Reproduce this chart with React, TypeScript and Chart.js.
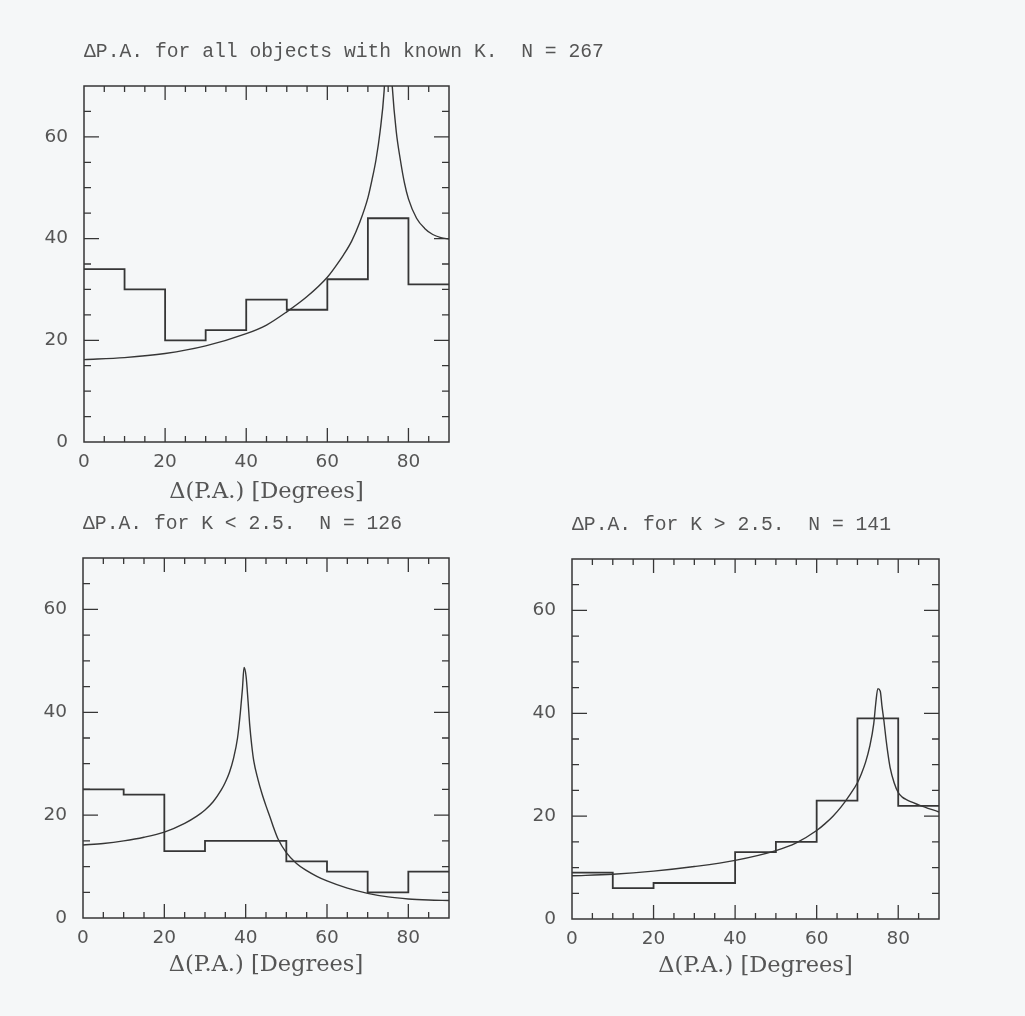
import React, { useEffect, useRef } from "react";
import { Chart, registerables } from "chart.js";

Chart.register(...registerables);

// ---------- data ----------
const binEdges = [0, 10, 20, 30, 40, 50, 60, 70, 80, 90];

const allCounts = [34, 30, 20, 22, 28, 26, 32, 44, 31];
const lowKCounts = [25, 24, 13, 15, 15, 11, 9, 5, 9];
const highKCounts = [9, 6, 7, 7, 13, 15, 23, 39, 22];

const allCurveX = [0, 10, 20, 30, 40, 45, 50, 55, 60, 62, 64, 66, 68, 70, 71, 72, 73, 74, 75, 76, 77, 78, 79, 80, 82, 84, 86, 88, 90];
const allCurveY = [16.2, 16.6, 17.4, 18.9, 21.3, 23, 25.6, 28.6, 32.4, 34.5, 36.8, 39.5, 43.2, 48, 51.5, 55.5, 61, 69, 85, 70, 61, 55.5, 51, 47.8, 44, 42, 40.8, 40.2, 39.9];

const lowKCurveX = [0, 5, 10, 15, 20, 25, 28, 30, 32, 34, 35, 36, 37, 38, 38.7, 39.2, 39.6, 40.1, 40.6, 41, 41.5, 42, 43, 44, 45, 46, 47, 48, 50, 52.5, 55, 57.5, 60, 65, 70, 75, 80, 85, 90];
const lowKCurveY = [14.2, 14.5, 15.0, 15.7, 16.7, 18.4, 19.8, 21, 22.6, 24.9, 26.4, 28.3, 31, 35, 40, 44.5, 48.7, 47, 42, 37.5, 33.5, 30.5, 27, 24.2, 21.8, 19.6, 17.3, 15.3, 12.7, 10.6, 9.2, 8.1, 7.2, 5.8, 4.8, 4.1, 3.7, 3.5, 3.4];

const highKCurveX = [0, 10, 20, 30, 40, 50, 55, 60, 62, 64, 66, 68, 70, 71, 72, 73, 74, 74.5, 75, 75.6, 76, 76.5, 77, 77.5, 78, 79, 80, 81, 82, 85, 90];
const highKCurveY = [8.4, 8.7, 9.3, 10.2, 11.4, 13.3, 14.8, 17.2, 18.5, 20, 21.8, 24, 26.5, 28.3, 30.5, 33.5, 38, 42, 44.8, 44.3, 41.5, 38.5, 35, 32, 29.5, 26.5, 24.6, 23.7, 23.2, 22.2, 20.8];

const xTickLabels = [0, 20, 40, 60, 80];
const yTickLabels = [0, 20, 40, 60];

const titleAll = "\u0394P.A. for all objects with known K.  N = 267";
const titleLow = "\u0394P.A. for K < 2.5.  N = 126";
const titleHigh = "\u0394P.A. for K > 2.5.  N = 141";
const xAxisTitle = "\u0394(P.A.) [Degrees]";

// ---------- styles ----------
const INK = "#363636";
const TEXT = "#555555";
const BG = "#f5f7f8";

type PanelProps = {
  title: string;
  counts: number[];
  curveX: number[];
  curveY: number[];
  left: number;
  top: number;
  width: number;
  height: number;
  pad: { left: number; top: number; right: number; bottom: number };
  xTitlePadBottom: number;
};

const frameTicksPlugin = {
  id: "frameTicks",
  afterDatasetsDraw(chart: any) {
    const { ctx, chartArea } = chart;
    const xs = chart.scales.x;
    const ys = chart.scales.y;
    ctx.save();
    ctx.strokeStyle = INK;
    ctx.lineWidth = 1.5;
    ctx.strokeRect(chartArea.left, chartArea.top, chartArea.right - chartArea.left, chartArea.bottom - chartArea.top);
    ctx.lineWidth = 1.3;
    ctx.beginPath();
    for (let v = 5; v < 90; v += 5) {
      const px = xs.getPixelForValue(v);
      const len = v % 20 === 0 ? 14 : 6;
      ctx.moveTo(px, chartArea.bottom);
      ctx.lineTo(px, chartArea.bottom - len);
      ctx.moveTo(px, chartArea.top);
      ctx.lineTo(px, chartArea.top + len);
    }
    for (let v = 5; v < 70; v += 5) {
      const py = ys.getPixelForValue(v);
      const len = v % 20 === 0 ? 15 : 7;
      ctx.moveTo(chartArea.left, py);
      ctx.lineTo(chartArea.left + len, py);
      ctx.moveTo(chartArea.right, py);
      ctx.lineTo(chartArea.right - len, py);
    }
    ctx.stroke();
    // panel title
    const t = chart.options.plugins.frameTicks.title;
    ctx.fillStyle = TEXT;
    ctx.font = "19.7px 'Liberation Mono', 'DejaVu Sans Mono', monospace";
    ctx.textBaseline = "middle";
    ctx.textAlign = "left";
    ctx.fillText(t, chartArea.left, chartArea.top - 34);
    ctx.restore();
  },
};

function Panel(p: PanelProps) {
  const ref = useRef<HTMLCanvasElement | null>(null);
  useEffect(() => {
    if (!ref.current) return;
    const histData = binEdges.map((x, i) => ({ x, y: p.counts[Math.min(i, p.counts.length - 1)] }));
    const curveData = p.curveX.map((x, i) => ({ x, y: p.curveY[i] }));
    const chart = new Chart(ref.current, {
      type: "line",
      data: {
        datasets: [
          {
            data: histData,
            stepped: "before",
            borderColor: INK,
            borderWidth: 1.8,
            pointRadius: 0,
            fill: false,
          },
          {
            data: curveData,
            borderColor: INK,
            borderWidth: 1.4,
            pointRadius: 0,
            cubicInterpolationMode: "monotone",
            fill: false,
          },
        ],
      },
      plugins: [frameTicksPlugin],
      options: {
        animation: false,
        responsive: false,
        events: [],
        layout: { padding: p.pad },
        plugins: {
          legend: { display: false },
          tooltip: { enabled: false },
          frameTicks: { title: p.title },
        } as any,
        scales: {
          x: {
            type: "linear",
            min: 0,
            max: 90,
            grid: { display: false, drawTicks: false },
            border: { display: false },
            afterBuildTicks: (s: any) => {
              s.ticks = xTickLabels.map((v) => ({ value: v }));
            },
            afterFit: (s: any) => {
              s.height = 70;
            },
            ticks: {
              padding: 9,
              color: TEXT,
              maxRotation: 0,
              font: { family: "'DejaVu Sans', sans-serif", size: 18.5 },
            },
            title: {
              display: true,
              text: xAxisTitle,
              color: TEXT,
              font: { family: "'DejaVu Serif', serif", size: 22.5 },
              padding: { top: 0, bottom: p.xTitlePadBottom },
            },
          },
          y: {
            type: "linear",
            min: 0,
            max: 70,
            grid: { display: false, drawTicks: false },
            border: { display: false },
            afterBuildTicks: (s: any) => {
              s.ticks = yTickLabels.map((v) => ({ value: v }));
            },
            afterFit: (s: any) => {
              s.width = 60;
            },
            ticks: {
              padding: 16,
              color: TEXT,
              font: { family: "'DejaVu Sans', sans-serif", size: 18.5 },
            },
          },
        },
      } as any,
    });
    return () => chart.destroy();
  }, []);
  return (
    <canvas
      ref={ref}
      width={p.width}
      height={p.height}
      style={{ position: "absolute", left: p.left, top: p.top, width: p.width, height: p.height }}
    />
  );
}

export default function App() {
  return (
    <div style={{ position: "absolute", left: 0, top: 0, width: 1025, height: 1016, background: BG, overflow: "hidden" }}>
      <Panel
        title={titleAll}
        counts={allCounts}
        curveX={allCurveX}
        curveY={allCurveY}
        left={0}
        top={0}
        width={640}
        height={520}
        pad={{ left: 24, top: 86, right: 191, bottom: 8 }}
        xTitlePadBottom={6.5}
      />
      <Panel
        title={titleLow}
        counts={lowKCounts}
        curveX={lowKCurveX}
        curveY={lowKCurveY}
        left={0}
        top={480}
        width={500}
        height={520}
        pad={{ left: 23, top: 78, right: 51, bottom: 12 }}
        xTitlePadBottom={9.5}
      />
      <Panel
        title={titleHigh}
        counts={highKCounts}
        curveX={highKCurveX}
        curveY={highKCurveY}
        left={500}
        top={480}
        width={500}
        height={520}
        pad={{ left: 12, top: 79, right: 61, bottom: 11 }}
        xTitlePadBottom={9.5}
      />
    </div>
  );
}
